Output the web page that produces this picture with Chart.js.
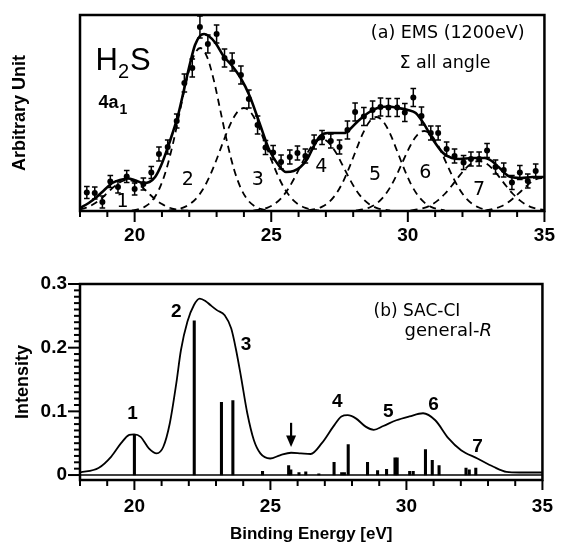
<!DOCTYPE html>
<html>
<head>
<meta charset="utf-8">
<title>H2S 4a1 ionization spectrum</title>
<script src="https://cdn.jsdelivr.net/npm/chart.js@4.4.1/dist/chart.umd.min.js"></script>
<style>
  html, body { margin: 0; padding: 0; background: #fff; }
  #wrap { position: relative; width: 568px; height: 548px; overflow: hidden; }
  canvas { position: absolute; left: 0; }
  #ems { top: 0; }
  #sac { top: 250px; }
</style>
</head>
<body>
<div id="wrap">
  <canvas id="ems" width="568" height="250"></canvas>
  <canvas id="sac" width="568" height="298"></canvas>
</div>
<script>
// ---------- axis ticks ----------
const energyTicks = [20, 25, 30, 35];
const energyTickLabels = ['20', '25', '30', '35'];
const sacTicks = [0, 0.1, 0.2, 0.3];
const sacTickLabels = ['0', '0.1', '0.2', '0.3'];

// ---------- (a) EMS measurement: binding energy (eV), counts, error ----------
const emsEnergy = [18.25,18.54,18.82,19.11,19.39,19.71,20.0,20.32,20.61,20.89,21.21,21.54,21.82,22.11,22.39,22.68,23.0,23.29,23.57,23.89,24.18,24.5,24.79,25.07,25.36,25.68,25.96,26.25,26.57,26.86,27.18,27.5,27.79,28.07,28.39,28.71,29.0,29.29,29.61,29.89,30.2,30.5,30.84,31.11,31.42,31.71,32.04,32.31,32.61,32.9,33.21,33.51,33.81,34.1,34.39,34.68];
const emsCounts = [18.5,18,9,29.5,24,34.5,22,27,38.5,57,64,90,128,143,184,167,177,153,149,136,112,86,63.5,58.5,49,54,58,55,69,73.5,70,64,81,99,94.5,101,104,103.5,103.5,98.5,113.5,95,78,78,62,55,48.5,52,52,60.5,44,41,28.5,38.5,30,40];
const emsError = [6,6,6,6,6,6,6,6,6,7,7,7,9,9,11,9,9,9,9,9,9,9,7,7,7,7,7,7,7,7,7,7,9,9,9,9,9,9,9,9,9,9,7,7,7,7,7,7,7,7,7,7,7,7,7,7];

// fitted total curve
const fitEnergy = [18.0,18.32,18.61,18.89,19.18,19.46,19.75,20.04,20.32,20.54,20.75,20.96,21.18,21.39,21.61,21.82,22.04,22.21,22.39,22.54,22.71,22.96,23.25,23.54,23.86,24.21,24.57,24.93,25.29,25.54,25.82,26.07,26.32,26.54,26.79,27.07,27.39,27.68,27.89,28.18,28.54,28.89,29.29,29.64,30.0,30.29,30.57,30.93,31.29,31.61,31.89,32.36,32.82,33.07,33.32,33.68,34.14,34.57,35.0];
const fitCounts = [3,8,14,21,28,31,32.5,30.5,28,29,34,45,61,78,98,123,149,166,175,177,175,168,155,146,134,115,88,61,45,39,40,44,52,64,75,78,78,78,82,90,98,103,104.5,103,101,98,88,71,58,53,52,53,53,50,44,35,33,34,34];

// fitted component bands 1-8
const band1E = [18.0,18.25,18.5,18.75,19.0,19.25,19.5,19.75,20.0,20.25,20.5,20.75,21.0,21.25,21.5,21.75,22.0];
const band1I = [1.6,3.5,6.9,11.8,18.0,24.4,29.2,31.0,29.2,24.4,18.0,11.8,6.9,3.5,1.6,0.7,0.2];
const band2E = [19.9,20.15,20.4,20.65,20.9,21.15,21.4,21.65,21.9,22.15,22.4,22.65,22.9,23.15,23.4,23.65,23.9,24.15,24.4,24.65,24.9];
const band2I = [0.6,1.8,4.7,10.7,22.0,40.6,67.0,98.9,130.6,154.2,163,154.2,130.6,98.9,67.0,40.6,22.0,10.7,4.7,1.8,0.6];
const band3E = [21.25,21.5,21.75,22.0,22.25,22.5,22.75,23.0,23.25,23.5,23.75,24.0,24.25,24.5,24.75,25.0,25.25,25.5,25.75,26.0,26.25,26.5,26.75];
const band3I = [0.6,1.4,3.1,6.5,12.4,21.7,34.9,51.5,69.8,86.6,98.7,103,98.7,86.6,69.8,51.5,34.9,21.7,12.4,6.5,3.1,1.4,0.6];
const band4E = [24.35,24.6,24.85,25.1,25.35,25.6,25.85,26.1,26.35,26.6,26.85,27.1,27.35,27.6,27.85,28.1,28.35,28.6,28.85,29.1,29.35];
const band4I = [0.5,1.4,3.2,6.6,12.4,21.2,33.0,46.4,59.3,68.5,72,68.5,59.3,46.4,33.0,21.2,12.4,6.6,3.2,1.4,0.5];
const band5E = [26.35,26.6,26.85,27.1,27.35,27.6,27.85,28.1,28.35,28.6,28.85,29.1,29.35,29.6,29.85,30.1,30.35,30.6,30.85,31.1,31.35];
const band5I = [0.7,1.8,4.1,8.6,16.2,27.7,43.1,60.5,77.4,89.5,94,89.5,77.4,60.5,43.1,27.7,16.2,8.6,4.1,1.8,0.7];
const band6E = [28.1,28.35,28.6,28.85,29.1,29.35,29.6,29.85,30.1,30.35,30.6,30.85,31.1,31.35,31.6,31.85,32.1,32.35,32.6,32.85,33.1];
const band6I = [0.6,1.5,3.5,7.3,13.8,23.6,36.6,51.5,65.8,76.2,80,76.2,65.8,51.5,36.6,23.6,13.8,7.3,3.5,1.5,0.6];
const band7E = [30.1,30.35,30.6,30.85,31.1,31.35,31.6,31.85,32.1,32.35,32.6,32.85,33.1,33.35,33.6,33.85,34.1,34.35,34.6,34.85,35.1];
const band7I = [0.7,1.5,3.1,6.0,10.6,17.0,25.0,33.9,42.1,47.9,50,47.9,42.1,33.9,25.0,17.0,10.6,6.0,3.1,1.5,0.7];
const band8E = [32.4,32.65,32.9,33.15,33.4,33.65,33.9,34.15,34.4,34.65,34.9,35.15];
const band8I = [0.1,0.4,0.9,2.2,4.5,8.2,13.6,20.0,26.4,31.2,33,31.2];

// ---------- (b) SAC-CI general-R: ionization lines and convoluted envelope ----------
const stickEnergy = [20.0,22.2,23.2,23.62,24.71,25.67,25.75,26.05,26.3,26.78,27.34,27.62,27.72,27.86,28.57,28.94,29.27,29.58,29.66,30.12,30.25,30.7,30.95,31.2,32.19,32.31,32.55];
const stickIntensity = [0.064,0.242,0.114,0.117,0.006,0.015,0.008,0.004,0.005,0.002,0.020,0.004,0.004,0.048,0.020,0.007,0.009,0.027,0.027,0.006,0.006,0.040,0.023,0.015,0.011,0.008,0.011];
const envEnergy = [18.0,18.68,19.15,19.51,19.81,19.99,20.23,20.53,20.82,21.06,21.30,21.54,21.71,21.95,22.19,22.4,22.62,22.79,23.03,23.32,23.56,23.74,23.92,24.15,24.39,24.63,24.99,25.35,25.76,26.12,26.48,26.89,27.31,27.61,27.84,28.14,28.5,28.8,29.15,29.63,30.11,30.61,31.06,31.54,32.01,32.61,33.2,33.68,34.15,35.0];
const envIntensity = [0.004,0.011,0.029,0.050,0.063,0.064,0.060,0.042,0.034,0.044,0.081,0.144,0.196,0.241,0.267,0.277,0.273,0.267,0.259,0.251,0.230,0.196,0.154,0.097,0.055,0.034,0.026,0.031,0.035,0.034,0.033,0.050,0.076,0.092,0.094,0.089,0.076,0.071,0.077,0.086,0.092,0.097,0.086,0.058,0.039,0.026,0.013,0.005,0.004,0.004];

// ---------- helpers ----------
const SANS = '"Liberation Sans", Arial, Helvetica, sans-serif';
const WIDE = '"DejaVu Sans", sans-serif';
const pts = (xs, ys) => xs.map((x, i) => ({ x, y: ys[i] }));

// frame box plus outward tick marks
const framePlugin = {
  id: 'frame',
  afterDraw(chart, _args, o) {
    const { ctx, chartArea: a, scales } = chart;
    ctx.save();
    ctx.strokeStyle = '#000';
    ctx.lineWidth = 2;
    const xs = scales.x;
    for (let e = Math.ceil(xs.min); e <= xs.max; e++) {
      const px = xs.getPixelForValue(e);
      const len = e % 5 === 0 ? o.xMajor : o.xMinor;
      ctx.beginPath();
      ctx.moveTo(px, a.bottom);
      ctx.lineTo(px, a.bottom + len);
      ctx.stroke();
    }
    if (o.yStep) {
      const ys = scales.y;
      const n = Math.round(ys.max / o.yStep);
      for (let i = 0; i <= n; i++) {
        const py = ys.getPixelForValue(i * o.yStep);
        const len = i % 10 === 0 ? o.yMajor : o.yMinor;
        ctx.beginPath();
        ctx.moveTo(a.left, py);
        ctx.lineTo(a.left - len, py);
        ctx.stroke();
      }
    }
    ctx.lineWidth = 2.5;
    ctx.strokeRect(a.left, a.top, a.right - a.left, a.bottom - a.top);
    ctx.restore();
  }
};

// vertical error bars for the dataset carrying an `errors` list
const errorBarPlugin = {
  id: 'errorBars',
  afterDatasetsDraw(chart) {
    const { ctx, scales: { x, y } } = chart;
    chart.data.datasets.forEach(ds => {
      if (!ds.errors) return;
      ctx.save();
      ctx.strokeStyle = '#000';
      ctx.lineWidth = 1.5;
      ds.data.forEach((p, i) => {
        const px = x.getPixelForValue(p.x);
        const y1 = y.getPixelForValue(p.y + ds.errors[i]);
        const y2 = y.getPixelForValue(p.y - ds.errors[i]);
        ctx.beginPath();
        ctx.moveTo(px, y1); ctx.lineTo(px, y2);
        ctx.moveTo(px - 2.8, y1); ctx.lineTo(px + 2.8, y1);
        ctx.moveTo(px - 2.8, y2); ctx.lineTo(px + 2.8, y2);
        ctx.stroke();
      });
      ctx.restore();
    });
  }
};

// text labels and arrow placed in data coordinates
const notesPlugin = {
  id: 'notes',
  afterDraw(chart, _args, o) {
    const { ctx, scales: { x, y } } = chart;
    ctx.save();
    ctx.fillStyle = '#000';
    ctx.strokeStyle = '#000';
    for (const it of (o.items || [])) {
      let px = x.getPixelForValue(it.x);
      const py = y.getPixelForValue(it.y);
      ctx.textBaseline = it.baseline || 'middle';
      if (it.parts) {
        ctx.textAlign = 'left';
        for (const p of it.parts) {
          ctx.font = p.font;
          ctx.fillText(p.t, px, py + (p.dy || 0));
          px += ctx.measureText(p.t).width + (p.gap || 0);
        }
      } else {
        ctx.textAlign = it.align || 'center';
        ctx.font = it.font;
        ctx.fillText(it.t, px, py);
      }
    }
    if (o.arrow) {
      const ar = o.arrow;
      const px = x.getPixelForValue(ar.x);
      const top = y.getPixelForValue(ar.top);
      const base = y.getPixelForValue(ar.base);
      const tip = y.getPixelForValue(ar.tip);
      ctx.lineWidth = 2.2;
      ctx.beginPath(); ctx.moveTo(px, top); ctx.lineTo(px, base + 1); ctx.stroke();
      ctx.beginPath();
      ctx.moveTo(px - ar.half, base); ctx.lineTo(px + ar.half, base); ctx.lineTo(px, tip);
      ctx.closePath(); ctx.fill();
    }
    ctx.restore();
  }
};

const tickFont = { family: SANS, size: 19, weight: 'bold' };
const yTitleFont = { family: SANS, size: 18, weight: 'bold' };
const xTitleFont = { family: SANS, size: 17, weight: 'bold' };

function energyAxis(height, padding, title) {
  return {
    type: 'linear', min: 18, max: 35, offset: false,
    grid: { display: false, drawTicks: false },
    border: { display: false },
    afterBuildTicks: s => { s.ticks = energyTicks.map(v => ({ value: v })); },
    ticks: { padding, font: tickFont, color: '#000', maxRotation: 0, autoSkip: false,
             callback: (v, i) => energyTickLabels[i] },
    title: title ? { display: true, text: title, font: xTitleFont, color: '#000', padding: { top: 0, bottom: 3 } } : { display: false },
    afterFit: s => { s.height = height; }
  };
}

// ---------- top panel: EMS ----------
const bandSets = [[band1E, band1I], [band2E, band2I], [band3E, band3I], [band4E, band4I],
                  [band5E, band5I], [band6E, band6I], [band7E, band7I], [band8E, band8I]];

new Chart(document.getElementById('ems'), {
  type: 'line',
  data: {
    datasets: [
      ...bandSets.map(([e, v]) => ({
        data: pts(e, v), borderColor: '#000', borderWidth: 1.8, borderDash: [7, 5],
        pointRadius: 0, cubicInterpolationMode: 'monotone', fill: false
      })),
      { data: pts(fitEnergy, fitCounts), borderColor: '#000', borderWidth: 2.6,
        pointRadius: 0, cubicInterpolationMode: 'monotone', fill: false },
      { data: pts(emsEnergy, emsCounts), showLine: false, pointRadius: 3, pointStyle: 'circle',
        backgroundColor: '#000', borderColor: '#000', borderWidth: 0, errors: emsError }
    ]
  },
  options: {
    responsive: false, animation: false, devicePixelRatio: 1, events: [],
    layout: { padding: { top: 15, right: 11, left: 0, bottom: 0 } },
    plugins: {
      legend: { display: false }, tooltip: { enabled: false },
      frame: { xMajor: 11, xMinor: 6 },
      notes: {
        items: [
          { x: 18.57, y: 141, baseline: 'alphabetic', parts: [
              { t: 'H', font: `31px ${SANS}` },
              { t: '2', font: `20px ${SANS}`, dy: 8, gap: 1 },
              { t: 'S', font: `31px ${SANS}` } ] },
          { x: 18.68, y: 103, baseline: 'alphabetic', parts: [
              { t: '4a', font: `bold 18px ${SANS}`, gap: 1 },
              { t: '1', font: `bold 14px ${SANS}`, dy: 6 } ] },
          { t: '(a) EMS (1200eV)', x: 31.46, y: 178, font: `17.5px ${WIDE}` },
          { t: '\u03A3 all angle', x: 31.36, y: 148, font: `17.5px ${WIDE}` },
          { t: '1', x: 19.56, y: 9.3, font: `19px ${WIDE}` },
          { t: '2', x: 21.95, y: 31, font: `19px ${WIDE}` },
          { t: '3', x: 24.51, y: 31, font: `19px ${WIDE}` },
          { t: '4', x: 26.83, y: 44.3, font: `19px ${WIDE}` },
          { t: '5', x: 28.8, y: 36, font: `19px ${WIDE}` },
          { t: '6', x: 30.64, y: 37.7, font: `19px ${WIDE}` },
          { t: '7', x: 32.61, y: 21, font: `19px ${WIDE}` }
        ]
      }
    },
    scales: {
      x: energyAxis(39, 13, null),
      y: {
        min: 0, max: 196,
        grid: { display: false, drawTicks: false }, border: { display: false },
        ticks: { display: false },
        title: { display: true, text: 'Arbitrary Unit', font: yTitleFont, color: '#000', padding: { top: 9, bottom: 0 } },
        afterFit: s => { s.width = 80; }
      }
    }
  },
  plugins: [errorBarPlugin, framePlugin, notesPlugin]
});

// ---------- bottom panel: SAC-CI ----------
new Chart(document.getElementById('sac'), {
  type: 'bar',
  data: {
    datasets: [
      { type: 'bar', data: pts(stickEnergy, stickIntensity), backgroundColor: '#000',
        borderWidth: 0, barThickness: 2.4, grouped: false },
      { type: 'line', data: pts(envEnergy, envIntensity), borderColor: '#000', borderWidth: 1.8,
        pointRadius: 0, cubicInterpolationMode: 'monotone', fill: false },
      { type: 'line', data: pts([envEnergy[0], envEnergy[envEnergy.length - 1]], [0, 0]),
        borderColor: '#000', borderWidth: 1.5, pointRadius: 0, fill: false }
    ]
  },
  options: {
    responsive: false, animation: false, devicePixelRatio: 1, events: [],
    layout: { padding: { top: 34, right: 11, left: 0, bottom: 0 } },
    plugins: {
      legend: { display: false }, tooltip: { enabled: false },
      frame: { xMajor: 10, xMinor: 6, yStep: 0.01, yMajor: 12, yMinor: 6 },
      notes: {
        items: [
          { t: '(b) SAC-CI', x: 28.79, y: 0.256, align: 'left', font: `17px ${WIDE}` },
          { x: 29.93, y: 0.225, parts: [
              { t: 'general-', font: `18px ${WIDE}` },
              { t: 'R', font: `italic 18px ${WIDE}` } ] },
          { t: '1', x: 19.93, y: 0.097, font: `bold 19px ${SANS}` },
          { t: '2', x: 21.54, y: 0.256, font: `bold 19px ${SANS}` },
          { t: '3', x: 24.1, y: 0.204, font: `bold 19px ${SANS}` },
          { t: '4', x: 27.46, y: 0.115, font: `bold 19px ${SANS}` },
          { t: '5', x: 29.33, y: 0.099, font: `bold 19px ${SANS}` },
          { t: '6', x: 31.0, y: 0.110, font: `bold 19px ${SANS}` },
          { t: '7', x: 32.61, y: 0.044, font: `bold 19px ${SANS}` }
        ],
        arrow: { x: 25.76, top: 0.082, base: 0.062, tip: 0.044, half: 5 }
      }
    },
    scales: {
      x: energyAxis(68, 15, 'Binding Energy [eV]'),
      y: {
        min: -0.0078, max: 0.3,
        grid: { display: false, drawTicks: false }, border: { display: false },
        afterBuildTicks: s => { s.ticks = sacTicks.map(v => ({ value: v })); },
        ticks: { padding: 13, font: tickFont, color: '#000', callback: (v, i) => sacTickLabels[i] },
        title: { display: true, text: 'Intensity', font: yTitleFont, color: '#000', padding: { top: 12, bottom: 0 } },
        afterFit: s => { s.width = 80; }
      }
    }
  },
  plugins: [framePlugin, notesPlugin]
});
</script>
</body>
</html>
